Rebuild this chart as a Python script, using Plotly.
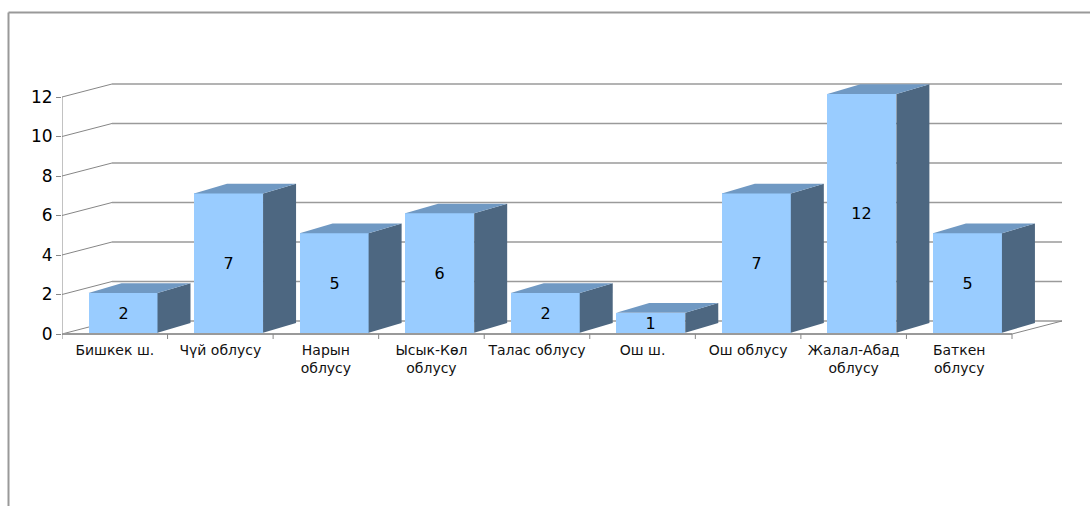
import plotly.graph_objects as go

categories = ["Бишкек ш.", "Чүй облусу", "Нарын<br>облусу", "Ысык-Көл<br>облусу", "Талас облусу",
              "Ош ш.", "Ош облусу", "Жалал-Абад<br>облусу", "Баткен<br>облусу"]
values = [2, 7, 5, 6, 2, 1, 7, 12, 5]
y_ticks = [0, 2, 4, 6, 8, 10, 12]

FRONT = "#99CCFF"
TOP = "#7099C3"
SIDE = "#4D6781"
GRID = "#9A9A9A"
AXIS = "#868686"

W, H = 1090, 506
L, R, T, B = 62, 1075, 70, 340
Y0 = 334
px_x = 950 / 9
px_y = (Y0 - 97) / 12
bar_px_y = (332.7 - 94) / 12
x_max = (R - L) / px_x

bar_w = 69 / px_x
centers = [i + (26.5 + 34.5) / px_x for i in range(len(values))]
wall_dx = 50 / px_x
wall_dy = 13 / px_y
depth_x = 33 / px_x
depth_y = 9.7 / bar_px_y
tick_len = 5 / px_y

fig = go.Figure()

# back wall gridlines with their oblique side-wall segments
for t in y_ticks:
    fig.add_trace(go.Scatter(x=[0, wall_dx], y=[t, t + wall_dy], mode="lines",
                             line=dict(color=AXIS, width=1), hoverinfo="skip", yaxis="y"))
    fig.add_trace(go.Scatter(x=[wall_dx, 9 + wall_dx], y=[t + wall_dy, t + wall_dy], mode="lines",
                             line=dict(color=GRID, width=1.6), hoverinfo="skip", yaxis="y"))
# floor right edge, value axis line, category axis line and its ticks
fig.add_trace(go.Scatter(x=[9, 9 + wall_dx], y=[0, wall_dy], mode="lines",
                         line=dict(color=AXIS, width=1), hoverinfo="skip", yaxis="y"))
fig.add_trace(go.Scatter(x=[0, 0], y=[0, 12], mode="lines",
                         line=dict(color=AXIS, width=1), hoverinfo="skip", yaxis="y"))
fig.add_trace(go.Scatter(x=[0, 9], y=[0, 0], mode="lines",
                         line=dict(color=GRID, width=2), hoverinfo="skip", yaxis="y"))
for i in range(10):
    fig.add_trace(go.Scatter(x=[i, i], y=[0, -tick_len], mode="lines",
                             line=dict(color=AXIS, width=1), hoverinfo="skip", yaxis="y"))

# 3D faces
for c, v in zip(centers, values):
    r = c + bar_w / 2
    l = c - bar_w / 2
    fig.add_trace(go.Scatter(x=[r, r + depth_x, r + depth_x, r, r], y=[0, depth_y, v + depth_y, v, 0],
                             mode="lines", fill="toself", fillcolor=SIDE, line=dict(width=0, color=SIDE),
                             hoverinfo="skip", yaxis="y2"))
    fig.add_trace(go.Scatter(x=[l, l + depth_x, r + depth_x, r, l], y=[v, v + depth_y, v + depth_y, v, v],
                             mode="lines", fill="toself", fillcolor=TOP, line=dict(width=0, color=TOP),
                             hoverinfo="skip", yaxis="y2"))

fig.add_trace(go.Bar(x=centers, y=values, width=bar_w, yaxis="y2",
                     marker=dict(color=FRONT, line=dict(color="#FFFFFF", width=0)),
                     text=[str(v) for v in values], textposition="inside", insidetextanchor="middle",
                     textangle=0, constraintext="none",
                     insidetextfont=dict(family="DejaVu Sans", size=16, color="#000000"),
                     hoverinfo="skip"))

frame_x = (8.5 - L) / (R - L)
frame_y = (B - 12.5) / (B - T)
fig.update_layout(
    width=W, height=H, margin=dict(l=L, r=W - R, t=T, b=H - B, pad=0),
    paper_bgcolor="white", plot_bgcolor="rgba(0,0,0,0)", showlegend=False, bargap=0,
    xaxis=dict(range=[0, x_max], tickmode="array", tickvals=[i + 0.5 for i in range(9)], ticktext=categories,
               ticks="", tickangle=0, showgrid=False, zeroline=False, showline=False,
               tickfont=dict(family="DejaVu Sans", size=14, color="#111111")),
    yaxis=dict(range=[-(B - Y0) / px_y, (Y0 - T) / px_y], tickmode="array", tickvals=y_ticks, ticks="outside",
               ticklen=5, tickcolor=AXIS, showgrid=False, zeroline=False, showline=False,
               tickfont=dict(family="DejaVu Sans", size=17, color="#000000")),
    yaxis2=dict(range=[-(B - 332.7) / bar_px_y, (332.7 - T) / bar_px_y], overlaying="y", visible=False,
                showgrid=False, zeroline=False),
    shapes=[dict(type="line", xref="paper", yref="paper", x0=frame_x, x1=frame_x, y0=(B - 520) / (B - T), y1=frame_y,
                 line=dict(color="#999999", width=2)),
            dict(type="line", xref="paper", yref="paper", x0=frame_x, x1=1.2, y0=frame_y, y1=frame_y,
                 line=dict(color="#999999", width=2))],
)

fig.write_html("out.html", post_script="document.body.style.margin='0';",
               config={"displayModeBar": False})
